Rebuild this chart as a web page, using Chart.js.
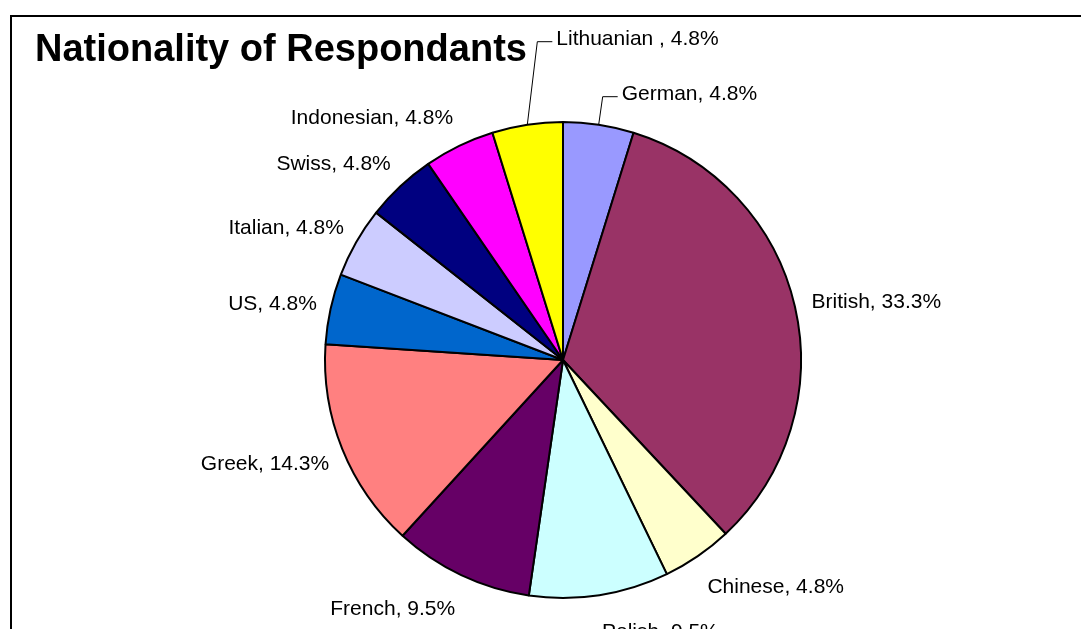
<!DOCTYPE html>
<html>
<head>
<meta charset="utf-8">
<script src="https://cdn.jsdelivr.net/npm/chart.js@4.4.1/dist/chart.umd.min.js"></script>
<style>
    html, body { margin: 0; padding: 0; background: #fff; }
    #wrap { position: relative; width: 1081px; height: 629px; overflow: hidden; }
    #frame { position: absolute; left: 10px; top: 15px; right: -5px; bottom: -5px;
             border-top: 2px solid #000; border-left: 2px solid #000; }
    #chart { position: absolute; left: 0; top: 0; }
</style>
</head>
<body>
<div id="wrap">
    <div id="frame"></div>
    <canvas id="chart" width="1081" height="629"></canvas>
</div>
<script>
// clockwise from 12 o'clock
var nationalities = ["German", "British", "Chinese", "Polish", "French", "Greek", "US", "Italian", "Swiss", "Indonesian", "Lithuanian "];
var percentages = [4.8, 33.3, 4.8, 9.5, 9.5, 14.3, 4.8, 4.8, 4.8, 4.8, 4.8];
var sliceColors = ["#9999FF", "#993366", "#FFFFCC", "#CCFFFF", "#660066", "#FF8080", "#0066CC", "#CCCCFF", "#000080", "#FF00FF", "#FFFF00"];
var chartTitle = "Nationality of Respondants";

// labels that were dragged away and got a leader line (elbow offset from the slice edge)
var movedLabels = {
    "German": { dx: 4, dy: -28 },
    "Lithuanian ": { dx: 10, dy: -83 }
};

var labelFont = '21px "Liberation Sans", Arial, sans-serif';

var excelLabels = {
    id: "excelLabels",
    afterDraw: function (chart) {
        var ctx = chart.ctx;
        ctx.save();

        // title
        ctx.fillStyle = "#000";
        ctx.font = 'bold 38px "Liberation Sans", Arial, sans-serif';
        ctx.textAlign = "left";
        ctx.textBaseline = "alphabetic";
        ctx.fillText(chartTitle, 35, 61);

        ctx.font = labelFont;
        ctx.textBaseline = "middle";
        var meta = chart.getDatasetMeta(0);
        meta.data.forEach(function (arc, i) {
            var p = arc.getProps(["x", "y", "startAngle", "endAngle", "outerRadius"], true);
            var mid = (p.startAngle + p.endAngle) / 2;
            var cx = Math.cos(mid), cy = Math.sin(mid);
            var text = nationalities[i] + ", " + percentages[i].toFixed(1) + "%";
            var moved = movedLabels[nationalities[i]];

            if (moved) {
                var ex = p.x + cx * p.outerRadius, ey = p.y + cy * p.outerRadius;
                var bx = ex + moved.dx, by = ey + moved.dy;
                ctx.strokeStyle = "#000";
                ctx.lineWidth = 1;
                ctx.beginPath();
                ctx.moveTo(ex, ey);
                ctx.lineTo(bx, by);
                ctx.lineTo(bx + 15, by);
                ctx.stroke();
                ctx.textAlign = "left";
                ctx.fillText(text, bx + 19, by - 2);
            } else {
                var right = cx >= 0;
                var lx = p.x + cx * (p.outerRadius + (right ? 17 : 14));
                var ly = p.y + cy * (p.outerRadius + 34) + 3;
                ctx.textAlign = right ? "left" : "right";
                ctx.fillText(text, lx, ly);
            }
        });
        ctx.restore();
    }
};

new Chart(document.getElementById("chart"), {
    type: "pie",
    data: {
        labels: nationalities,
        datasets: [
            {
                data: percentages,
                backgroundColor: sliceColors,
                borderColor: "#000",
                borderWidth: 2,
            },
        ],
    },
    options: {
        responsive: false,
        animation: false,
        radius: 238,
        layout: {
            padding: { left: 45, right: 0, top: 91, bottom: 0 },
        },
        plugins: {
            legend: { display: false },
            tooltip: { enabled: false },
            title: { display: false },
        },
    },
    plugins: [excelLabels],
});
</script>
</body>
</html>
